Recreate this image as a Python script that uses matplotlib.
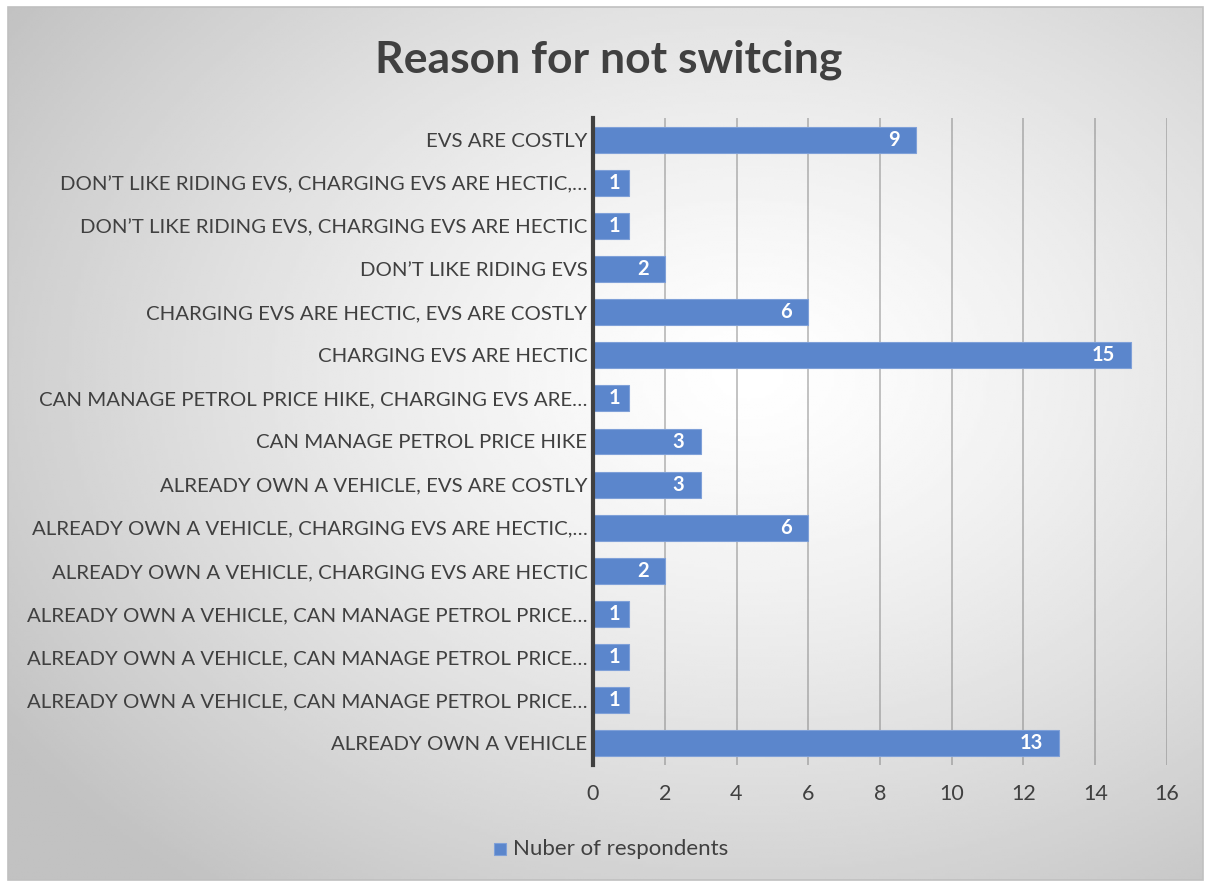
import numpy as np
import matplotlib.pyplot as plt
from matplotlib.patches import Rectangle

# survey answers, listed bottom to top as they appear on the chart
reasons = [
    "ALREADY OWN A VEHICLE",
    "ALREADY OWN A VEHICLE, CAN MANAGE PETROL PRICE…",
    "ALREADY OWN A VEHICLE, CAN MANAGE PETROL PRICE…",
    "ALREADY OWN A VEHICLE, CAN MANAGE PETROL PRICE…",
    "ALREADY OWN A VEHICLE, CHARGING EVS ARE HECTIC",
    "ALREADY OWN A VEHICLE, CHARGING EVS ARE HECTIC,…",
    "ALREADY OWN A VEHICLE, EVS ARE COSTLY",
    "CAN MANAGE PETROL PRICE HIKE",
    "CAN MANAGE PETROL PRICE HIKE, CHARGING EVS ARE…",
    "CHARGING EVS ARE HECTIC",
    "CHARGING EVS ARE HECTIC, EVS ARE COSTLY",
    "DON’T LIKE RIDING EVS",
    "DON’T LIKE RIDING EVS, CHARGING EVS ARE HECTIC",
    "DON’T LIKE RIDING EVS, CHARGING EVS ARE HECTIC,…",
    "EVS ARE COSTLY",
]
respondents = [13, 1, 1, 1, 2, 6, 3, 3, 1, 15, 6, 2, 1, 1, 9]
x_ticks = [0, 2, 4, 6, 8, 10, 12, 14, 16]

bar_color = "#5b86cc"
text_color = "#404040"
plt.rcParams["font.family"] = ["Lato", "DejaVu Sans"]

W, H = 1205, 883
fig = plt.figure(figsize=(W / 100, H / 100), dpi=100)
fig.patch.set_facecolor("white")

# chart area with a soft radial fill
bx0, by0, bx1, by1 = 8, 7, 1203, 880
bg = fig.add_axes([bx0 / W, 1 - by1 / H, (bx1 - bx0) / W, (by1 - by0) / H], zorder=0)
gx, gy = np.meshgrid(np.linspace(0, 1, 400), np.linspace(0, 1, 300))
r = np.sqrt(((gx - 0.62) / 0.75) ** 2 + ((gy - 0.42) / 0.75) ** 2)
shade = 1.0 - 0.24 * np.clip(r, 0, 1) ** 1.3
bg.imshow(shade, cmap="gray", vmin=0, vmax=1, aspect="auto", extent=[0, 1, 1, 0])
bg.set_axis_off()
fig.patches.append(Rectangle((bx0 / W, 1 - by1 / H), (bx1 - bx0) / W, (by1 - by0) / H,
                             transform=fig.transFigure, fill=False,
                             edgecolor="#c0c0c0", linewidth=1.2, zorder=5))

ax = fig.add_axes([593 / W, 1 - 765 / H, 574 / W, 647 / H], zorder=1)
ax.set_facecolor("none")

pos = np.arange(len(reasons))
bars = ax.barh(pos, respondents, height=0.6, color=bar_color,
               edgecolor="#7fa0d8", linewidth=0.8, zorder=3)
# value labels sit inside the bar end, but never closer than a margin to the axis
for y, v in zip(pos, respondents):
    ax.text(max(v - 0.45, 0.75), y, str(v), ha="right", va="center", color="white",
            fontsize=14.5, fontweight="bold", zorder=4)

ax.set_xlim(0, 16)
ax.set_ylim(-0.5, len(reasons) - 0.5)
ax.set_xticks(x_ticks)
ax.set_xticklabels([str(t) for t in x_ticks], fontsize=15.5, color=text_color)
ax.set_yticks(pos)
ax.set_yticklabels(reasons, fontsize=14.7, color=text_color)
ax.tick_params(axis="both", length=0)
ax.tick_params(axis="x", pad=14)
ax.tick_params(axis="y", pad=4)
for v in x_ticks[1:]:
    ax.axvline(v, color="#7a7a7a", alpha=0.45, linewidth=1.4, zorder=1)
for s in ["top", "right", "bottom"]:
    ax.spines[s].set_visible(False)
ax.spines["left"].set_color("#404040")
ax.spines["left"].set_linewidth(3)
ax.spines["left"].set_zorder(5)

fig.text(609 / W, 1 - 60 / H, "Reason for not switcing", ha="center", va="center",
         fontsize=32, fontweight="bold", color=text_color)

# legend
fig.patches.append(Rectangle((494 / W, 1 - 855 / H), 12 / W, 12 / H,
                             transform=fig.transFigure, facecolor=bar_color,
                             edgecolor="#7fa0d8", linewidth=0.8, zorder=5))
fig.text(513 / W, 1 - 849 / H, "Nuber of respondents", ha="left", va="center",
         fontsize=16, color=text_color)

fig.savefig("out.png", dpi=100)
